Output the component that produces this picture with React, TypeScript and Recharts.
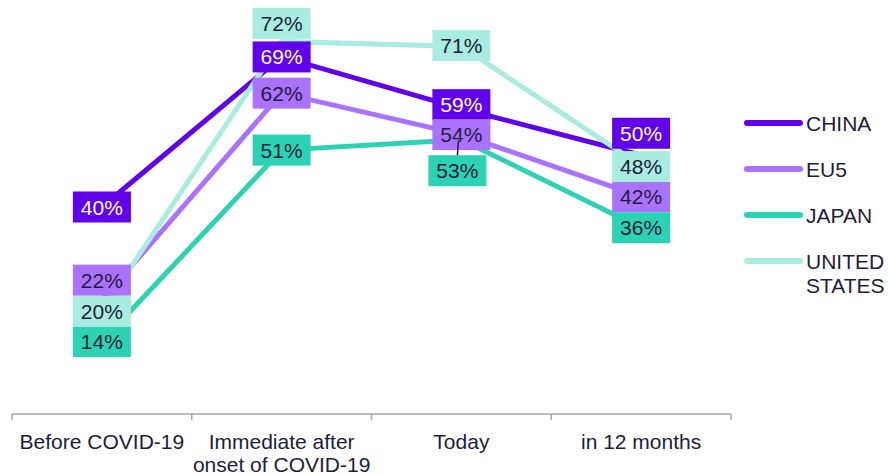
import React from 'react';
import { LineChart, Line, XAxis, YAxis, LabelList, Legend } from 'recharts';

const categories = ['Before COVID-19', 'Immediate after\nonset of COVID-19', 'Today', 'in 12 months'];
const chinaValues = [40, 69, 59, 50];
const eu5Values = [22, 62, 54, 42];
const japanValues = [14, 51, 53, 36];
const usValues = [20, 72, 71, 48];
const seriesNames = ['CHINA', 'EU5', 'JAPAN', 'UNITED\nSTATES'];

const data = categories.map((category, i) => ({
  category,
  china: chinaValues[i],
  eu5: eu5Values[i],
  japan: japanValues[i],
  us: usValues[i],
}));

const FONT = '"Liberation Sans", Arial, sans-serif';
const TEXT = '#1E1C3A';
const AXIS = '#A6A6A6';
const W = 888;
const H = 475;
const MARGIN = { top: 0, right: 157, bottom: 0, left: 12 };
const PLOT_W = W - MARGIN.left - MARGIN.right;
const HALF = PLOT_W / categories.length / 2;

const COLORS = { china: '#6100EA', eu5: '#AA72FF', japan: '#2BD3B4', us: '#A8EDE0' };
const LABEL_TEXT = { china: '#FFFFFF', eu5: TEXT, japan: TEXT, us: TEXT };
// label placement nudges [dx, dy] per point (styling, not data)
const NUDGE: Record<string, number[][]> = {
  china: [[0, 0], [0, 0], [0, -4], [0, -22]],
  eu5: [[0, -20], [0, 0], [0, 0], [0, 0]],
  japan: [[0, 0], [0, 0], [-4, 31], [0, 0]],
  us: [[0, 1], [0, -18], [0, -1], [0, 1]],
};

const BOX_W = 58;
const BOX_H = 31;

const makeLabel = (key: string) => (props: any) => {
  const { x, y, value, index } = props;
  const [dx, dy] = NUDGE[key][index] || [0, 0];
  const cx = x + dx;
  const cy = y + dy;
  return (
    <g>
      <rect x={cx - BOX_W / 2} y={cy - BOX_H / 2} width={BOX_W} height={BOX_H} fill={COLORS[key as keyof typeof COLORS]} />
      <text x={cx} y={cy + 7.5} textAnchor="middle" fontSize={21} fontFamily={FONT} fill={LABEL_TEXT[key as keyof typeof LABEL_TEXT]}>
        {value}%
      </text>
      {dy > 20 && (
        <line x1={x - 3} y1={y + 1} x2={cx} y2={cy - BOX_H / 2} stroke={TEXT} strokeWidth={1.5} />
      )}
    </g>
  );
};

const AxisTick = (props: any) => {
  const { x, y, payload, index } = props;
  const lines = String(payload.value).split('\n');
  const last = index === categories.length - 1;
  return (
    <g>
      <line x1={x - HALF} y1={y} x2={x - HALF} y2={y + 6} stroke={AXIS} strokeWidth={1.5} />
      {last && <line x1={x + HALF} y1={y} x2={x + HALF} y2={y + 6} stroke={AXIS} strokeWidth={1.5} />}
      <text x={x} y={y + 35} textAnchor="middle" fontSize={21} fontFamily={FONT} fill={TEXT}>
        {lines.map((l, i) => (
          <tspan key={i} x={x} dy={i === 0 ? 0 : 23}>{l}</tspan>
        ))}
      </text>
    </g>
  );
};

const keys = ['china', 'eu5', 'japan', 'us'];

const LegendContent = () => (
  <svg width={144} height={210} style={{ display: 'block', overflow: 'visible' }}>
    {keys.map((k, i) => {
      const cy = 23 + i * 46;
      const nameLines = seriesNames[i].split('\n');
      return (
        <g key={k}>
          <line x1={3} y1={cy} x2={56} y2={cy} stroke={COLORS[k as keyof typeof COLORS]} strokeWidth={6} strokeLinecap="round" />
          <text x={62} y={cy + 7.5} fontSize={21} fontFamily={FONT} fill={TEXT}>
            {nameLines.map((l, j) => (
              <tspan key={j} x={62} dy={j === 0 ? 0 : 24}>{l}</tspan>
            ))}
          </text>
        </g>
      );
    })}
  </svg>
);

export default function App() {
  return (
    <div style={{ position: 'absolute', left: 0, top: 0, width: W, height: H, background: '#fff' }}>
      <LineChart width={W} height={H} data={data} margin={MARGIN}>
        <XAxis
          dataKey="category"
          height={475 - 414}
          padding={{ left: HALF, right: HALF }}
          axisLine={{ stroke: AXIS, strokeWidth: 1.5 }}
          tickLine={false}
          tickSize={0}
          tickMargin={0}
          interval={0}
          tick={<AxisTick />}
        />
        <YAxis hide domain={[0, 80]} type="number" />
        <Legend
          layout="horizontal"
          verticalAlign="middle"
          align="center"
          content={<LegendContent />}
          wrapperStyle={{ left: 744, top: 100, width: 144, height: 210 }}
        />
        {keys.map((k) => (
          <Line
            key={k}
            type="linear"
            dataKey={k}
            stroke={COLORS[k as keyof typeof COLORS]}
            strokeWidth={5}
            dot={false}
            activeDot={false}
            isAnimationActive={false}
          />
        ))}
        {keys.map((k) => (
          <Line
            key={k + '-labels'}
            type="linear"
            dataKey={k}
            stroke="none"
            strokeWidth={0}
            dot={false}
            activeDot={false}
            legendType="none"
            isAnimationActive={false}
          >
            <LabelList dataKey={k} content={makeLabel(k)} />
          </Line>
        ))}
      </LineChart>
    </div>
  );
}
